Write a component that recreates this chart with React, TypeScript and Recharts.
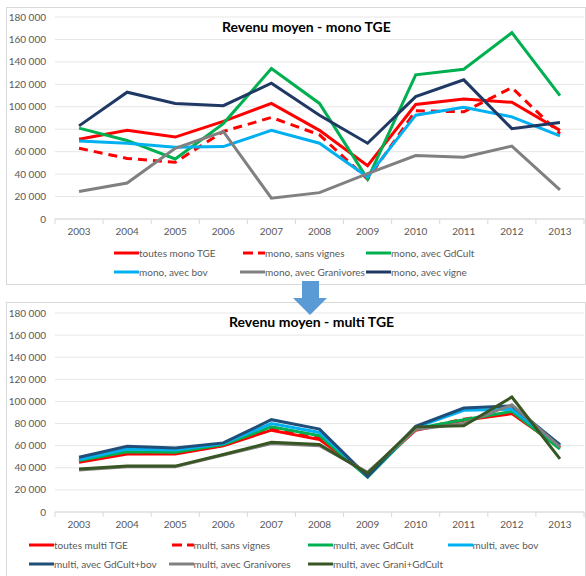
import React from 'react';
import { LineChart, Line, XAxis, YAxis, CartesianGrid } from 'recharts';

const years = ['2003', '2004', '2005', '2006', '2007', '2008', '2009', '2010', '2011', '2012', '2013'];
const yTicks = [0, 20000, 40000, 60000, 80000, 100000, 120000, 140000, 160000, 180000];

// mono TGE
const monoToutes = [71000, 79000, 73000, 87000, 103000, 79000, 47500, 102000, 107000, 104000, 79000];
const monoSansVignes = [63000, 54000, 50500, 78000, 90500, 75000, 35500, 96500, 95500, 117000, 76000];
const monoGdCult = [81000, 70000, 53500, 85000, 134000, 103000, 35500, 128500, 133500, 166000, 110000];
const monoBov = [69500, 67500, 64000, 64500, 79000, 67500, 37500, 92500, 99500, 91000, 74000];
const monoGranivores = [24500, 32000, 63000, 78000, 18500, 23500, 40500, 56500, 55000, 65000, 26000];
const monoVigne = [83000, 113000, 103000, 101000, 121000, 92500, 67500, 109000, 124000, 80500, 86000];

// multi TGE
const multiToutes = [45000, 52500, 52500, 60000, 74000, 65500, 34500, 74000, 83000, 89000, 58500];
const multiSansVignes = [46000, 54000, 53000, 60500, 75000, 67000, 34000, 74500, 84000, 90000, 58000];
const multiGdCult = [46500, 54500, 54000, 61000, 77000, 69000, 31500, 75500, 83500, 91000, 57000];
const multiBov = [47500, 57000, 56000, 62000, 80000, 72000, 32500, 76500, 92000, 93000, 60000];
const multiGdCultBov = [49500, 59500, 58000, 62500, 83500, 75000, 32000, 77500, 94000, 96000, 61000];
const multiGranivores = [38000, 41000, 41000, 51500, 62000, 60000, 36000, 74500, 80000, 97000, 59000];
const multiGraniGdCult = [39000, 41500, 41500, 52000, 63000, 61000, 35000, 77000, 78000, 104000, 48000];

const monoSeries = [
  { key: 'toutes', name: 'toutes mono TGE', values: monoToutes, color: '#ff0000', dash: false },
  { key: 'sansVignes', name: 'mono, sans vignes', values: monoSansVignes, color: '#ff0000', dash: true },
  { key: 'gdCult', name: 'mono, avec GdCult', values: monoGdCult, color: '#00b050', dash: false },
  { key: 'bov', name: 'mono, avec bov', values: monoBov, color: '#00b0f0', dash: false },
  { key: 'granivores', name: 'mono, avec Granivores', values: monoGranivores, color: '#808080', dash: false },
  { key: 'vigne', name: 'mono, avec vigne', values: monoVigne, color: '#1f3864', dash: false },
];

const multiSeries = [
  { key: 'toutes', name: 'toutes multi TGE', values: multiToutes, color: '#ff0000', dash: false },
  { key: 'sansVignes', name: 'multi, sans vignes', values: multiSansVignes, color: '#ff0000', dash: true },
  { key: 'gdCult', name: 'multi, avec GdCult', values: multiGdCult, color: '#00b050', dash: false },
  { key: 'bov', name: 'multi, avec bov', values: multiBov, color: '#00b0f0', dash: false },
  { key: 'gdCultBov', name: 'multi, avec GdCult+bov', values: multiGdCultBov, color: '#1f4e79', dash: false },
  { key: 'granivores', name: 'multi, avec Granivores', values: multiGranivores, color: '#808080', dash: false },
  { key: 'graniGdCult', name: 'multi, avec Grani+GdCult', values: multiGraniGdCult, color: '#375623', dash: false },
];

const FONT = 'Lato, "Open Sans", sans-serif';
const PLOT_LEFT = 55;
const PLOT_RIGHT = 584;
const BAND = (PLOT_RIGHT - PLOT_LEFT) / years.length;

const buildRows = (series: typeof monoSeries) =>
  years.map((year, i) => {
    const row: any = { year };
    series.forEach(s => { row[s.key] = s.values[i]; });
    return row;
  });

const formatY = (v: number) => v.toLocaleString('fr-FR').replace(/\s/g, ' ');

const YearTick = ({ x, y, payload, index }: any) => {
  const axisY = y - 9;
  return (
    <g>
      <line x1={x - BAND / 2} x2={x - BAND / 2} y1={axisY} y2={axisY + 5} stroke="#d9d9d9" />
      {index === years.length - 1 && (
        <line x1={x + BAND / 2} x2={x + BAND / 2} y1={axisY} y2={axisY + 5} stroke="#d9d9d9" />
      )}
      <text x={x} y={y} dy="0.71em" textAnchor="middle" fontSize={10} fill="#595959" fontFamily={FONT}>
        {payload.value}
      </text>
    </g>
  );
};

const Panel = ({ top, height, marginTop, series }: any) => (
  <div style={{ position: 'absolute', left: 0, top }}>
    <LineChart width={586} height={height} data={buildRows(series)}
      margin={{ top: marginTop, right: 2, left: 0, bottom: 0 }}>
      <CartesianGrid horizontal vertical={false} stroke="#e6e6e6" />
      <XAxis dataKey="year" height={21} tick={<YearTick />} tickLine={false} tickSize={6} tickMargin={3}
        axisLine={{ stroke: '#d9d9d9' }} interval={0} padding={{ left: BAND / 2, right: BAND / 2 }} />
      <YAxis width={55} domain={[0, 180000]} ticks={yTicks} tickFormatter={formatY} interval={0}
        axisLine={false} tickLine={false} tickSize={6} tickMargin={3}
        tick={{ fontSize: 10, fill: '#595959', fontFamily: FONT }} />
      {series.map((s: any) => (
        <Line key={s.key} dataKey={s.key} name={s.name} stroke={s.color} strokeWidth={3}
          strokeDasharray={s.dash ? '9 6' : undefined} dot={false} isAnimationActive={false} />
      ))}
    </LineChart>
  </div>
);

const LegendBlock = ({ left, top, itemWidth, columns, series }: any) => (
  <div style={{ position: 'absolute', left, top, width: itemWidth * columns, display: 'flex', flexWrap: 'wrap',
    fontFamily: FONT, fontSize: 10, color: '#595959' }}>
    {series.map((s: any) => (
      <div key={s.key} style={{ width: itemWidth, height: 18.5, display: 'flex', alignItems: 'center', whiteSpace: 'nowrap' }}>
        <svg width={25} height={6} style={{ flex: 'none' }}>
          <line x1={0} x2={25} y1={3} y2={3} stroke={s.color} strokeWidth={3}
            strokeDasharray={s.dash ? '0 3 10 5 10' : undefined} />
        </svg>
        <span>{s.name}</span>
      </div>
    ))}
  </div>
);

const Title = ({ left, top, text }: any) => (
  <div style={{ position: 'absolute', left, top, fontFamily: FONT, fontWeight: 'bold', fontSize: 14,
    color: '#000', whiteSpace: 'nowrap', lineHeight: '16px' }}>{text}</div>
);

export default function App() {
  return (
    <div style={{ position: 'absolute', left: 0, top: 0, width: 586, height: 576, background: '#fff', overflow: 'hidden' }}>
      <div style={{ position: 'absolute', left: 6, top: 7, width: 578, height: 276, border: '1px solid #d9d9d9' }} />
      <div style={{ position: 'absolute', left: 6, top: 302, width: 578, height: 300, border: '1px solid #d9d9d9' }} />
      <Panel top={0} height={240} marginTop={17} series={monoSeries} />
      <Panel top={290} height={243} marginTop={23} series={multiSeries} />
      <Title left={222} top={19} text="Revenu moyen - mono TGE" />
      <Title left={229} top={314} text="Revenu moyen - multi TGE" />
      <LegendBlock left={114} top={244} itemWidth={126} columns={3} series={monoSeries} />
      <LegendBlock left={29} top={536} itemWidth={139.5} columns={4} series={multiSeries} />
      <svg style={{ position: 'absolute', left: 0, top: 0 }} width={586} height={576} pointerEvents="none">
        <polygon points="302,281 319,281 319,298 327,298 310,315 293,298 302,298" fill="#5b9bd5" />
      </svg>
    </div>
  );
}
